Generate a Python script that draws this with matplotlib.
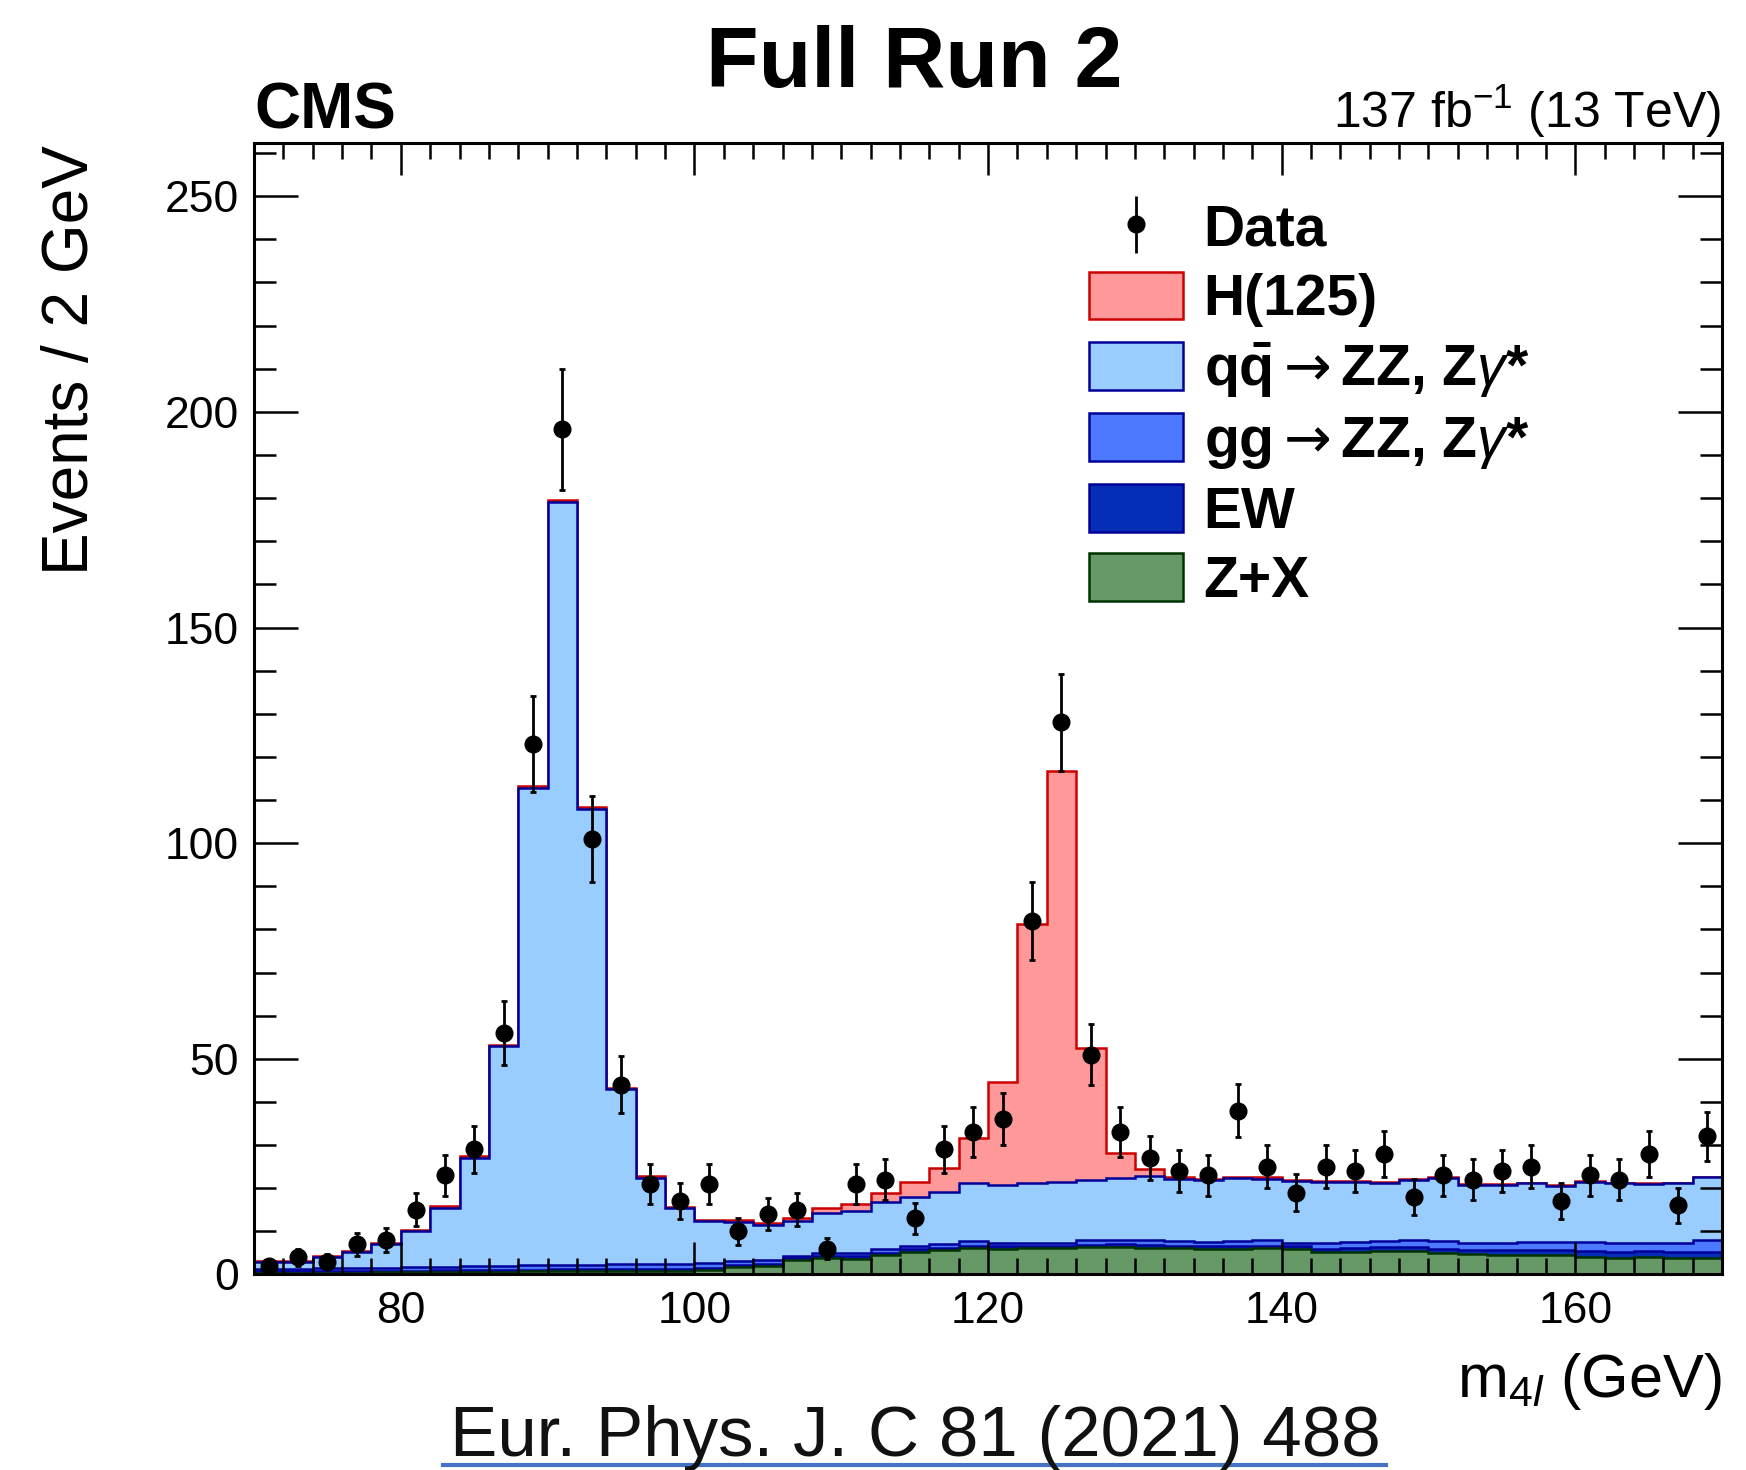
import numpy as np
import matplotlib
matplotlib.use("Agg")
import matplotlib.pyplot as plt
from matplotlib.patches import Patch
from matplotlib.lines import Line2D
from matplotlib.collections import LineCollection
from matplotlib.container import ErrorbarContainer
from matplotlib.ticker import MultipleLocator

plt.rcParams['font.family'] = ['Liberation Sans', 'DejaVu Sans']
plt.rcParams['mathtext.fontset'] = 'custom'
plt.rcParams['mathtext.rm'] = 'Liberation Sans'
plt.rcParams['mathtext.it'] = 'Liberation Sans:italic'
plt.rcParams['mathtext.bf'] = 'Liberation Sans:bold'
plt.rcParams['mathtext.sf'] = 'DejaVu Sans'

# ---- m4l distribution, 2 GeV bins from 70 to 170 GeV ----
bin_edges = np.arange(70, 172, 2)

data_counts = [2, 4, 3, 7, 8, 15, 23, 29, 56, 123,
               196, 101, 44, 21, 17, 21, 10, 14, 15, 6,
               21, 22, 13, 29, 33, 36, 82, 128, 51, 33,
               27, 24, 23, 38, 25, 19, 25, 24, 28, 18,
               23, 22, 24, 25, 17, 23, 22, 28, 16, 32]

zx = [0.3, 0.3, 0.4, 0.4, 0.5, 0.5, 0.6, 0.6, 0.6, 0.7,
      0.7, 0.8, 0.8, 0.8, 0.8, 1.0, 1.8, 2.0, 3.4, 3.9,
      3.7, 4.5, 5.3, 5.7, 6.2, 6.0, 6.1, 6.1, 6.3, 6.4,
      6.2, 6.1, 6.0, 6.0, 6.1, 5.8, 5.1, 5.3, 5.5, 5.5,
      4.9, 4.7, 4.6, 4.6, 4.6, 4.1, 3.9, 4.1, 3.9, 3.9]

ew = [0.4, 0.4, 0.4, 0.4, 0.4, 0.4, 0.4, 0.4, 0.4, 0.4,
      0.5, 0.5, 0.5, 0.5, 0.5, 0.5, 0.5, 0.5, 0.5, 0.5,
      0.5, 0.5, 0.5, 0.5, 0.5, 0.6, 0.6, 0.6, 0.6, 0.6,
      0.6, 0.6, 0.6, 0.6, 0.6, 0.8, 0.8, 0.8, 0.8, 0.8,
      1.0, 1.0, 1.0, 1.0, 1.0, 1.3, 1.3, 1.3, 1.3, 1.3]

gg_zz = [0.5, 0.6, 0.6, 0.7, 0.7, 0.8, 0.8, 0.9, 1.0, 1.1,
         1.1, 1.0, 1.1, 1.1, 1.1, 1.1, 0.8, 0.8, 0.5, 0.5,
         0.7, 0.9, 0.8, 0.8, 1.1, 0.6, 0.7, 0.7, 1.0, 1.1,
         1.3, 1.0, 1.0, 1.1, 1.3, 0.8, 1.3, 1.5, 1.4, 1.6,
         1.8, 1.7, 1.8, 2.0, 2.0, 2.2, 2.0, 2.0, 2.2, 2.9]

qq_zz = [1.8, 1.7, 2.7, 3.7, 5.5, 8.3, 13.7, 25.1, 51.0, 110.7,
         176.9, 105.7, 40.6, 20.0, 13.0, 9.7, 9.0, 8.2, 8.1, 9.4,
         9.8, 11.0, 11.4, 12.2, 13.3, 13.5, 13.9, 14.1, 14.0, 14.3,
         14.7, 14.4, 14.3, 14.6, 14.2, 14.3, 14.3, 13.9, 13.6, 14.0,
         14.6, 13.3, 13.3, 13.5, 12.9, 13.9, 13.9, 13.5, 13.7, 14.4]

higgs = [0.1, 0.1, 0.1, 0.2, 0.2, 0.3, 0.3, 0.4, 0.3, 0.3,
         0.3, 0.3, 0.3, 0.4, 0.3, 0.3, 0.5, 0.4, 0.6, 1.0,
         1.6, 2.1, 3.5, 5.5, 10.6, 23.9, 59.9, 95.3, 30.7, 5.7,
         1.6, 0.6, 0.3, 0.3, 0.3, 0.2, 0.2, 0.2, 0.2, 0.2,
         0.2, 0.2, 0.2, 0.2, 0.2, 0.2, 0.2, 0.2, 0.2, 0.2]

labels = ['Z+X', 'EW',
          r'gg$\mathsf{\rightarrow}$ZZ, Z$\gamma$*',
          r'q$\mathbf{\bar{q}}$$\mathsf{\rightarrow}$ZZ, Z$\gamma$*',
          'H(125)']
fill_colors = ['#669966', '#062db5', '#4d79ff', '#99ccff', '#ff9999']
line_colors = ['#003300', '#000099', '#000099', '#000099', '#cc0000']

# ---- figure ----
fig = plt.figure(figsize=(17.46, 14.70), dpi=100)
ax = fig.add_axes([0.1455, 0.1330, 0.8408, 0.7699])

# stacked histogram: draw cumulative sums from the top layer down
stack = np.cumsum(np.vstack([zx, ew, gg_zz, qq_zz, higgs]), axis=0)
for i in reversed(range(len(labels))):
    ax.stairs(stack[i], bin_edges, fill=True, facecolor=fill_colors[i],
              edgecolor=line_colors[i], linewidth=1.8)

# data points with Poisson errors
centers = 0.5 * (bin_edges[:-1] + bin_edges[1:])
counts = np.array(data_counts, dtype=float)
ax.errorbar(centers, counts, yerr=np.sqrt(counts), fmt='o', color='black',
            markersize=12, elinewidth=2.0, capsize=2.5, capthick=2.0, zorder=5)

ax.set_xlim(70, 170)
ax.set_ylim(0, 262.4)

ax.xaxis.set_major_locator(MultipleLocator(20))
ax.xaxis.set_minor_locator(MultipleLocator(2))
ax.yaxis.set_major_locator(MultipleLocator(50))
ax.yaxis.set_minor_locator(MultipleLocator(10))

for sp in ax.spines.values():
    sp.set_linewidth(2.2)
ax.tick_params(which='both', direction='in', top=True, right=True,
               width=1.8, labelsize=32)
ax.tick_params(axis='x', which='major', length=23, pad=12)
ax.tick_params(axis='x', which='minor', length=11.5)
ax.tick_params(axis='y', which='major', length=31.5, pad=11)
ax.tick_params(axis='y', which='minor', length=16)

# legend
marker_line = Line2D([], [], color='black', marker='o', markersize=12, linestyle='none')
bar_line = LineCollection([], colors='black', linewidths=2.0)
data_handle = ErrorbarContainer((marker_line, (), (bar_line,)), has_xerr=False, has_yerr=True)
handles = [data_handle]
names = ['Data']
for i in reversed(range(len(labels))):
    handles.append(Patch(facecolor=fill_colors[i], edgecolor=line_colors[i], linewidth=1.8))
    names.append(labels[i])
ax.legend(handles, names, loc='upper left', bbox_to_anchor=(0.5688, 0.947),
          frameon=False, borderpad=0, handlelength=1.65, handleheight=0.9,
          handletextpad=0.36, labelspacing=0.24, borderaxespad=0,
          prop={'size': 41, 'weight': 'bold'})

# labels and headers
fig.text(0.0407, 0.9014, 'Events / 2 GeV', rotation=90, ha='center', va='top', fontsize=46)
fig.text(0.9857, 0.0497, r'm$_{4\mathit{l}}$ (GeV)', ha='right', va='baseline', fontsize=44)
fig.text(0.5238, 0.9408, 'Full Run 2', ha='center', va='baseline', fontsize=62, fontweight='bold')
fig.text(0.1455, 0.9129, 'CMS', ha='left', va='baseline', fontsize=46, fontweight='bold')
fig.text(0.9857, 0.9129, r'137 fb$^{-1}$ (13 TeV)', ha='right', va='baseline', fontsize=36)

fig.text(0.524, 0.0095, 'Eur. Phys. J. C 81 (2021) 488', ha='center', va='baseline',
         fontsize=51, color='#111111')
fig.add_artist(Line2D([443 / 1746, 1386 / 1746], [0.0034, 0.0034],
                      color='#4472c4', linewidth=3, transform=fig.transFigure))

fig.savefig('out.png', dpi=100)
